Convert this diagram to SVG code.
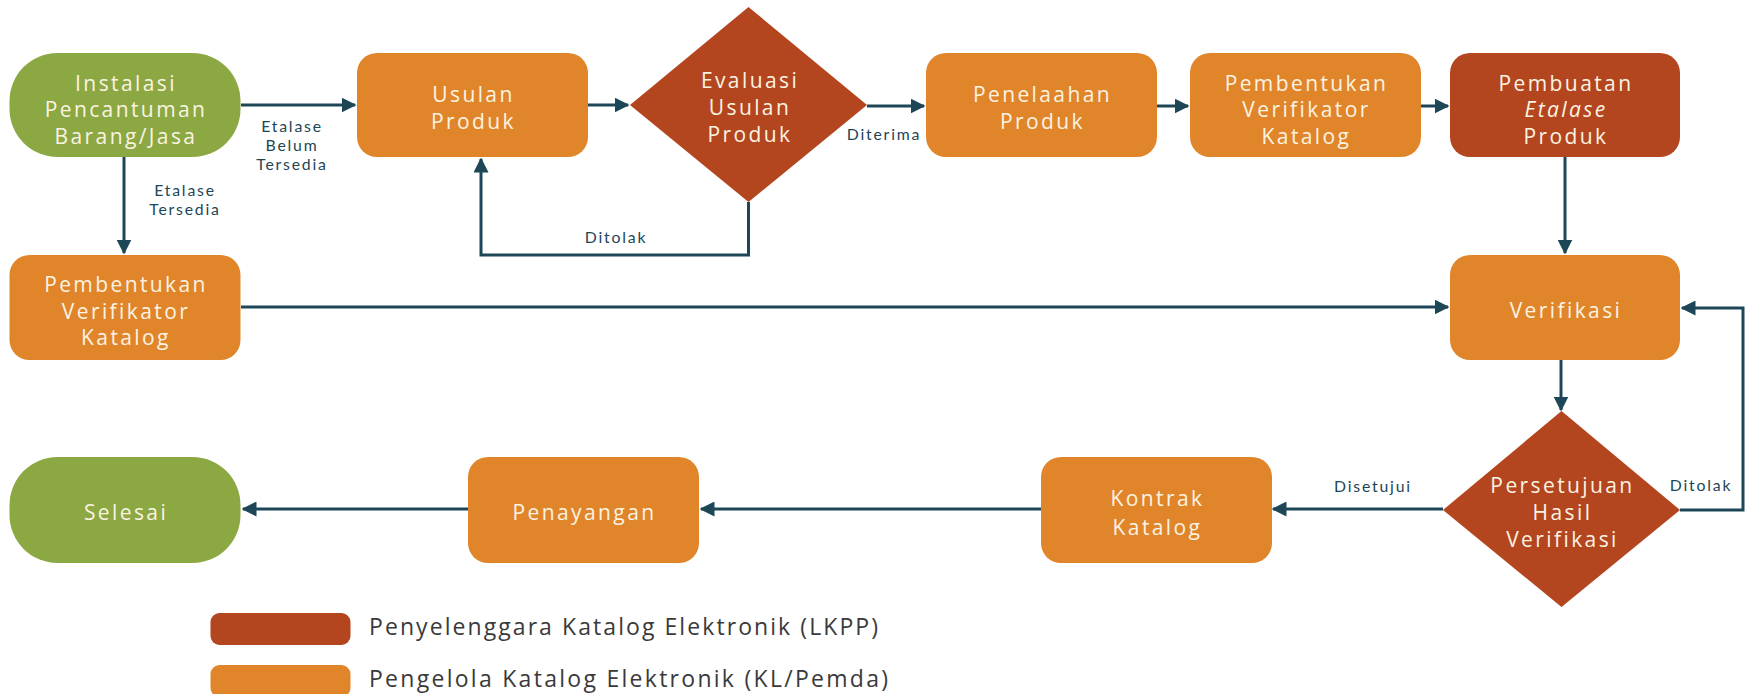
<svg xmlns="http://www.w3.org/2000/svg" width="1747" height="694" viewBox="0 0 1747 694">
<style>
.or{fill:#e1852b}
.rd{fill:#b3451f}
.gr{fill:#8ba843}
.nt{font-family:"Open Sans",Lato,sans-serif;font-size:21px;letter-spacing:2.4px;fill:#fbf3e2;text-anchor:middle;dominant-baseline:central}
.lb{font-family:Lato,"Open Sans",sans-serif;font-size:15.8px;letter-spacing:1.8px;fill:#1d4656;text-anchor:middle;dominant-baseline:central}
.lg{font-family:"Open Sans",Lato,sans-serif;font-size:23px;fill:#3a3a3a;dominant-baseline:central}
.cn{fill:none;stroke:#1d4656;stroke-width:3;marker-end:url(#ah)}
</style>
<defs>
<marker id="ah" viewBox="0 0 10 10" refX="9" refY="5" markerWidth="5" markerHeight="5" markerUnits="strokeWidth" orient="auto">
<path d="M0,0 L10,5 L0,10 Z" fill="#1d4656"/>
</marker>
</defs>
<rect width="1747" height="694" fill="#ffffff"/>
<g id="connectors">
<path class="cn" d="M241,105 L355,105"/>
<path class="cn" d="M124,157 L124,253"/>
<path class="cn" d="M588,105 L628,105"/>
<path class="cn" d="M867,106 L924,106"/>
<path class="cn" d="M748.5,202 L748.5,255 L481,255 L481,159"/>
<path class="cn" d="M1157,106 L1188,106"/>
<path class="cn" d="M1421,106 L1448,106"/>
<path class="cn" d="M1565,157 L1565,253"/>
<path class="cn" d="M241,307 L1448,307"/>
<path class="cn" d="M1561,360 L1561,410"/>
<path class="cn" d="M1680,510 L1743,510 L1743,308 L1682,308"/>
<path class="cn" d="M1443,509 L1273,509"/>
<path class="cn" d="M1041,509 L701,509"/>
<path class="cn" d="M468,509 L243,509"/>
<text class="lb" x="292" y="125">Etalase</text>
<text class="lb" x="292" y="144">Belum</text>
<text class="lb" x="292" y="163">Tersedia</text>
<text class="lb" x="185" y="189">Etalase</text>
<text class="lb" x="185" y="208">Tersedia</text>
<text class="lb" x="616" y="236">Ditolak</text>
<text class="lb" x="884" y="133">Diterima</text>
<text class="lb" x="1373" y="485">Disetujui</text>
<text class="lb" x="1701" y="484">Ditolak</text>
</g>
<g id="n-instalasi">
<rect class="gr" x="9.5" y="53" width="231" height="104" rx="48" ry="48"/>
<text class="nt" x="126" y="82.5">Instalasi</text>
<text class="nt" x="126" y="109">Pencantuman</text>
<text class="nt" x="126" y="135.5">Barang/Jasa</text>
</g>
<g id="n-usulan">
<rect class="or" x="357" y="53" width="231" height="104" rx="20" ry="20"/>
<text class="nt" x="473.5" y="94">Usulan</text>
<text class="nt" x="473.5" y="121">Produk</text>
</g>
<g id="n-evaluasi">
<polygon class="rd" points="748.5,7 867,105 748.5,202 630,105"/>
<text class="nt" x="750" y="80">Evaluasi</text>
<text class="nt" x="750" y="107">Usulan</text>
<text class="nt" x="750" y="134">Produk</text>
</g>
<g id="n-penelaahan">
<rect class="or" x="926" y="53" width="231" height="104" rx="20" ry="20"/>
<text class="nt" x="1042.5" y="94">Penelaahan</text>
<text class="nt" x="1042.5" y="121">Produk</text>
</g>
<g id="n-pembentukan-top">
<rect class="or" x="1190" y="53" width="231" height="104" rx="20" ry="20"/>
<text class="nt" x="1306.5" y="82.5">Pembentukan</text>
<text class="nt" x="1306.5" y="109">Verifikator</text>
<text class="nt" x="1306.5" y="135.5">Katalog</text>
</g>
<g id="n-pembuatan">
<rect class="rd" x="1450" y="53" width="230" height="104" rx="20" ry="20"/>
<text class="nt" x="1566" y="82.5">Pembuatan</text>
<text class="nt" x="1566" y="109" font-style="italic">Etalase</text>
<text class="nt" x="1566" y="135.5">Produk</text>
</g>
<g id="n-verifikasi">
<rect class="or" x="1450" y="255" width="230" height="105" rx="20" ry="20"/>
<text class="nt" x="1566" y="310">Verifikasi</text>
</g>
<g id="n-pembentukan-left">
<rect class="or" x="9.5" y="255" width="231" height="105" rx="20" ry="20"/>
<text class="nt" x="126" y="284">Pembentukan</text>
<text class="nt" x="126" y="310.5">Verifikator</text>
<text class="nt" x="126" y="337">Katalog</text>
</g>
<g id="n-persetujuan">
<polygon class="rd" points="1561.5,411 1680,510 1561.5,607 1443,510"/>
<text class="nt" x="1562.5" y="485">Persetujuan</text>
<text class="nt" x="1562.5" y="512">Hasil</text>
<text class="nt" x="1562.5" y="538.5">Verifikasi</text>
</g>
<g id="n-kontrak">
<rect class="or" x="1041" y="457" width="231" height="106" rx="20" ry="20"/>
<text class="nt" x="1157.5" y="498">Kontrak</text>
<text class="nt" x="1157.5" y="527">Katalog</text>
</g>
<g id="n-penayangan">
<rect class="or" x="468" y="457" width="231" height="106" rx="20" ry="20"/>
<text class="nt" x="584.5" y="512">Penayangan</text>
</g>
<g id="n-selesai">
<rect class="gr" x="9.5" y="457" width="231" height="106" rx="48" ry="48"/>
<text class="nt" x="126" y="512">Selesai</text>
</g>
<g id="legend">
<rect class="rd" x="210.5" y="613" width="140" height="32" rx="9" ry="9"/>
<text class="lg" x="369" y="626" textLength="509" lengthAdjust="spacing">Penyelenggara Katalog Elektronik (LKPP)</text>
<rect class="or" x="210.5" y="665" width="140" height="32" rx="9" ry="9"/>
<text class="lg" x="369" y="678" textLength="519" lengthAdjust="spacing">Pengelola Katalog Elektronik (KL/Pemda)</text>
</g>
</svg>
